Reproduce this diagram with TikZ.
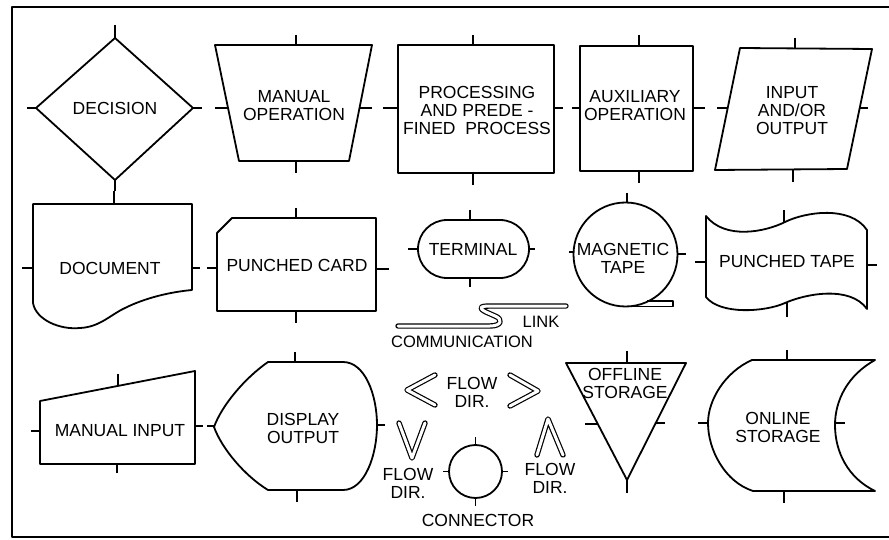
\documentclass[tikz,border=0pt]{standalone}
\usepackage{fontspec}
\setmainfont{Liberation Sans}
\begin{document}
\begin{tikzpicture}[x=1pt,y=-1pt,line width=1.8pt,line join=round,
  lbl/.style={font=\fontsize{17.5}{18}\selectfont,align=center,inner sep=0pt},
  tk/.style={line width=1.5pt},
  dbl/.style={double,double distance=3pt,line width=1.2pt,line cap=round,line join=round}]
\useasboundingbox (0,0) rectangle (889,540);
% frame
\draw[line width=1.6pt] (892,7) -- (12,7) -- (12,537) -- (892,537);

% ---------- row 1 ----------
% decision
\draw (115,38) -- (193,108) -- (115,180) -- (36,108) -- cycle;
\draw[tk] (115,25)--(115,38) (115,180)--(115,191) (27,108)--(36,108) (193,108)--(202,108);
\node[lbl] (decision) at (115,108) {DECISION};
% manual operation
\draw (215,45) -- (372,45) -- (349,161) -- (239,161) -- cycle;
\draw[tk] (296,35)--(296,45) (296,161)--(296,173) (215,108)--(228,108) (360,108)--(372,108);
\node[lbl] (manop) at (294,106) {MANUAL\\OPERATION};
% processing
\draw (398,45) rectangle (554,173);
\draw[tk] (473,35)--(473,45) (473,173)--(473,185) (383,108)--(398,108) (554,108)--(563,108);
\node[lbl] (proc) at (477,110) {PROCESSING\\AND PREDE -\\FINED\ \ PROCESS};
% auxiliary
\draw (580,46) rectangle (693,171);
\draw[tk] (639,35)--(639,46) (639,171)--(639,183) (572,108)--(580,108) (693,108)--(705,108);
\node[lbl] (aux) at (635,106) {AUXILIARY\\OPERATION};
% input/output
\draw (740,48) -- (872,49) -- (847,169) -- (715,170) -- cycle;
\draw[tk] (795,38)--(795,48) (793,170)--(793,182) (717,108)--(728,108) (860,108)--(868,108);
\node[lbl] (io) at (792,111) {INPUT\\AND/OR\\OUTPUT};

% ---------- row 2 ----------
% document
\draw (33,303) -- (33,204) -- (192,204) -- (192,290)
  .. controls (170,292) and (145,298) .. (125,308)
  .. controls (110,315) and (100,327) .. (80,328)
  .. controls (60,330) and (36,320) .. (33,303) -- cycle;
\draw[tk] (114,191)--(114,204) (22,268)--(33,268) (192,268)--(200,268);
\node[lbl] (doc) at (110,268) {DOCUMENT};
% punched card
\draw (217,233) -- (232,218) -- (376,218) -- (376,311) -- (217,311) -- cycle;
\draw[tk] (296,208)--(296,218) (296,311)--(296,323) (207,268)--(217,268) (376,269)--(389,269);
\node[lbl] (card) at (297,265) {PUNCHED CARD};
% terminal
\draw[rounded corners=29pt] (418,220) rectangle (529,278);
\draw[tk] (470,210)--(470,220) (470,278)--(470,287) (408,249)--(418,249) (529,249)--(535,249);
\node[lbl] (term) at (473,249) {TERMINAL};
% communication link
\draw[dbl] (398,326) -- (490,326) .. controls (502,326) and (503,319) .. (495,316)
  -- (486,312) .. controls (478,308) and (480,306) .. (490,306) -- (566,306);
\node[lbl,font=\fontsize{16.5}{17}\selectfont] (link) at (541,322) {LINK};
\node[lbl,font=\fontsize{16.5}{17}\selectfont] (comm) at (462,342) {COMMUNICATION};
% magnetic tape
\draw (625.5,254.5) circle[radius=52];
\draw (625.5,306.5) -- (673,306.5) -- (673,301) -- (647,301);
\draw[tk] (627,193)--(627,202.5) (677.5,254)--(686,254) (569,252)--(573.5,252);
\node[lbl] (mag) at (623,258) {MAGNETIC\\TAPE};
% punched tape
\draw (706,216) .. controls (725,240) and (765,232) .. (785,222)
  .. controls (805,212) and (850,205) .. (867,230) -- (867,309)
  .. controls (850,285) and (805,294) .. (785,303)
  .. controls (765,312) and (720,315) .. (706,297) -- cycle;
\draw[tk] (784,210)--(784,223) (787,303)--(787,317) (695,262)--(706,262) (867,265)--(877,265);
\node[lbl] (ptape) at (787,261) {PUNCHED TAPE};

% ---------- row 3 ----------
% manual input
\draw (40,401) -- (195,371) -- (195,464) -- (40,464) -- cycle;
\draw[tk] (118,374)--(118,386) (117,464)--(117,473) (31,431)--(40,431) (195,426)--(203,426);
\node[lbl] (minput) at (120,431) {MANUAL INPUT};
% display output
\draw (268,362) -- (343,362) .. controls (365,362) and (377,395) .. (377,425)
  .. controls (377,455) and (365,490) .. (343,490) -- (268,490)
  .. controls (245,476) and (222,449) .. (214,427)
  .. controls (222,405) and (245,378) .. (268,362) -- cycle;
\draw[tk] (295,352)--(295,362) (297,490)--(297,502) (207,426)--(214,426) (377,425)--(385,425);
\node[lbl] (disp) at (303,428) {DISPLAY\\OUTPUT};
% flow direction marks
\draw[dbl] (435,375) -- (407,390) -- (435,405);
\draw[dbl] (510,375) -- (538,391) -- (510,406);
\draw[dbl] (399,423) -- (412,458) -- (425,423);
\draw[dbl] (537,455) -- (548,419) -- (563,455);
\node[lbl] (flowtop) at (472,392) {FLOW\\DIR.};
\node[lbl] (flowleft) at (408,483) {FLOW\\DIR.};
\node[lbl] (flowright) at (550,478) {FLOW\\DIR.};
% connector
\draw (475.5,471.5) circle[radius=26.5];
\draw[tk] (475.5,437)--(475.5,445) (475.5,498)--(475.5,506) (443,471.5)--(449,471.5) (502,471.5)--(508,471.5);
\node[lbl] (conn) at (478,520) {CONNECTOR};
% offline storage
\draw (566,363) -- (686,363) -- (627,480) -- cycle;
\draw[tk] (627,351)--(627,363) (627,480)--(627,493) (585,424)--(597,424) (656,423)--(665,423);
\node[lbl] (offline) at (625,383) {OFFLINE\\STORAGE};
% online storage
\draw (752,360) -- (875,360) .. controls (848,375) and (835,400) .. (835,425)
  .. controls (835,452) and (848,478) .. (875,491) -- (753,491)
  .. controls (725,482) and (708,450) .. (708,423)
  .. controls (708,400) and (725,372) .. (752,360) -- cycle;
\draw[tk] (787,350)--(787,360) (784,491)--(784,503) (698,423)--(708,423) (835,423)--(845,423);
\node[lbl] (online) at (778,427) {ONLINE\\STORAGE};
\end{tikzpicture}
\end{document}
